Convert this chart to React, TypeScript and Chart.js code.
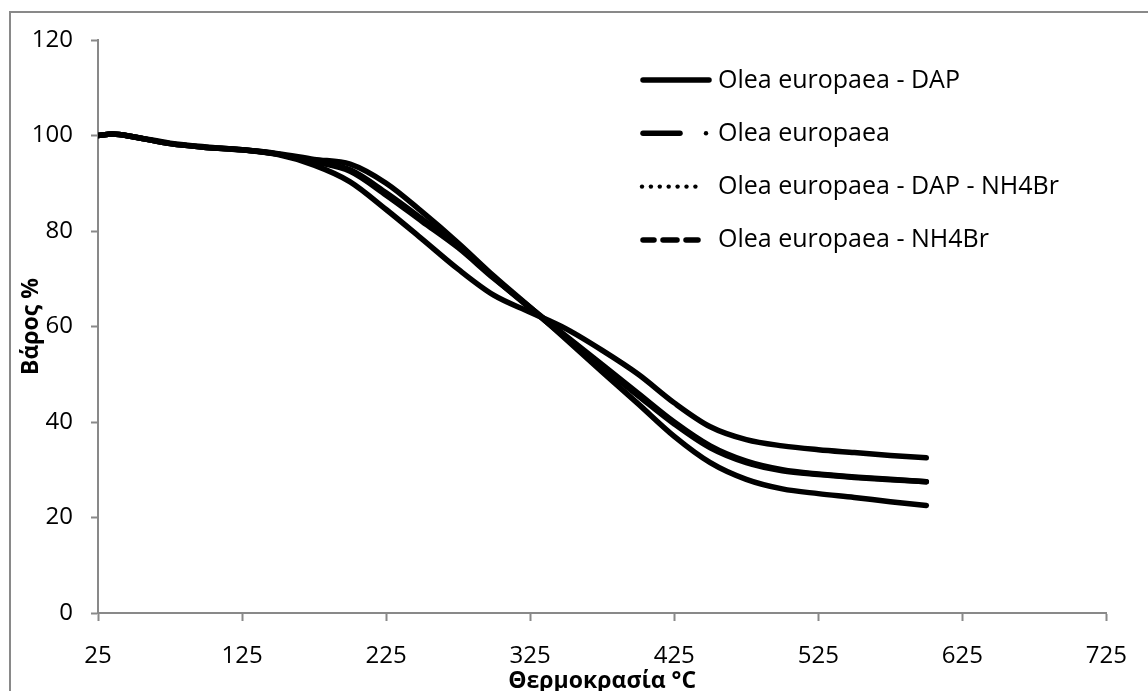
import { useEffect, useRef } from "react";
import { Chart, registerables } from "chart.js";

Chart.register(...registerables);

// Thermogravimetric curves: temperature (°C) vs remaining weight (%)
const temperatures = [25, 35, 50, 75, 100, 125, 150, 175, 200, 225, 250, 275, 300, 325, 350, 375, 400, 425, 450, 475, 500, 525, 550, 575, 600];

const weightDAP = [100, 100.3, 99.7, 98.4, 97.6, 97.0, 96.0, 93.8, 90.3, 84.5, 78.3, 72.0, 66.5, 63.0, 59.5, 55.0, 50.0, 44.0, 39.0, 36.3, 35.0, 34.2, 33.6, 33.0, 32.5];
const weightPlain = [100, 100.3, 99.7, 98.3, 97.5, 97.0, 96.2, 95.0, 94.0, 90.0, 84.0, 77.5, 70.5, 64.0, 57.3, 50.5, 43.8, 37.0, 31.5, 28.0, 26.0, 25.0, 24.2, 23.3, 22.5];
const weightDAPNH4Br = [100, 100.3, 99.7, 98.3, 97.5, 97.0, 96.1, 94.5, 92.5, 87.5, 82.0, 76.5, 70.0, 64.0, 58.0, 52.0, 46.0, 40.0, 35.0, 31.8, 30.0, 29.1, 28.5, 28.0, 27.5];
const weightNH4Br = [100, 100.3, 99.7, 98.3, 97.5, 97.0, 96.1, 94.6, 92.8, 88.0, 82.5, 76.8, 70.2, 63.8, 57.6, 51.5, 45.5, 39.6, 34.6, 31.5, 29.8, 29.0, 28.4, 27.9, 27.5];

const seriesLabels = [
  "Olea europaea - DAP",
  "Olea europaea",
  "Olea europaea - DAP - NH4Br",
  "Olea europaea - NH4Br",
];
// legend sample styles: solid, long dash + dot, dotted, dashed
const legendStyles = ["solid", "dashDot", "dot", "dash"];

const xTicks = [25, 125, 225, 325, 425, 525, 625, 725];
const yTicks = [0, 20, 40, 60, 80, 100, 120];

const xTitle = "Θερμοκρασία °C";
const yTitle = "Βάρος %";

const FONT = "'Open Sans', 'Noto Sans', sans-serif";
const AXIS_GREY = "#898989";
const LINE_W = 5.5;

const toPoints = (ys: number[]) => temperatures.map((t, i) => ({ x: t, y: ys[i] }));

// Outer frame of the chart block (left and top edges fall inside the canvas)
const framePlugin = {
  id: "outerFrame",
  beforeDraw(chart: any) {
    const { ctx } = chart;
    ctx.save();
    ctx.strokeStyle = AXIS_GREY;
    ctx.lineWidth = 2;
    ctx.beginPath();
    ctx.moveTo(10, chart.height + 5);
    ctx.lineTo(10, 12);
    ctx.lineTo(chart.width + 5, 12);
    ctx.stroke();
    ctx.restore();
  },
};

// Legend drawn inside the plot area with per-series line samples
const sampleLegendPlugin = {
  id: "sampleLegend",
  afterDraw(chart: any) {
    const { ctx, chartArea } = chart;
    const x0 = chartArea.left + 542;
    const textX = chartArea.left + 620;
    const rowY0 = chartArea.top + 40;
    const rowGap = 53.3;
    ctx.save();
    ctx.strokeStyle = "#000";
    ctx.fillStyle = "#000";
    ctx.lineWidth = LINE_W;
    ctx.lineCap = "round";
    const seg = (a: number, b: number, y: number) => {
      ctx.beginPath();
      ctx.moveTo(a, y);
      ctx.lineTo(b, y);
      ctx.stroke();
    };
    const dot = (x: number, y: number, r: number) => {
      ctx.beginPath();
      ctx.arc(x, y, r, 0, Math.PI * 2);
      ctx.fill();
    };
    seriesLabels.forEach((label, i) => {
      const y = rowY0 + i * rowGap;
      const style = legendStyles[i];
      if (style === "solid") {
        seg(x0 + 3, x0 + 69, y);
      } else if (style === "dashDot") {
        seg(x0 + 3, x0 + 40, y);
        dot(x0 + 66, y, 2.2);
      } else if (style === "dot") {
        for (let k = 0; k < 7; k++) dot(x0 + 2 + k * 8.9, y, 2.2);
      } else {
        seg(x0 + 3, x0 + 14, y);
        seg(x0 + 23, x0 + 37, y);
        seg(x0 + 46, x0 + 58, y);
      }
      ctx.font = `25px ${FONT}`;
      ctx.textAlign = "left";
      ctx.textBaseline = "alphabetic";
      ctx.fillText(label, textX, y + 7.5);
    });
    ctx.restore();
  },
};

export default function App() {
  const canvasRef = useRef<HTMLCanvasElement | null>(null);

  useEffect(() => {
    const canvas = canvasRef.current;
    if (!canvas) return;

    const datasets = [weightDAP, weightPlain, weightDAPNH4Br, weightNH4Br].map((ys, i) => ({
      label: seriesLabels[i],
      data: toPoints(ys),
      borderColor: "#000",
      backgroundColor: "#000",
      borderWidth: LINE_W,
      borderCapStyle: "round" as const,
      borderJoinStyle: "round" as const,
      pointRadius: 0,
      pointHoverRadius: 0,
      cubicInterpolationMode: "monotone" as const,
      fill: false,
    }));

    const chart = new Chart(canvas, {
      type: "line",
      data: { datasets },
      options: {
        animation: false,
        responsive: true,
        maintainAspectRatio: false,
        layout: { padding: { top: 40, right: 26, left: 0, bottom: 0 } },
        plugins: {
          legend: { display: false },
          tooltip: { enabled: false },
        },
        events: [],
        scales: {
          x: {
            type: "linear",
            min: 25,
            max: 725,
            afterBuildTicks: (scale: any) => {
              scale.ticks = xTicks.map((v) => ({ value: v }));
            },
            afterFit: (scale: any) => {
              scale.height = 78;
            },
            border: { display: true, color: AXIS_GREY, width: 2 },
            grid: {
              display: true,
              drawOnChartArea: false,
              drawTicks: true,
              tickLength: 8,
              tickColor: AXIS_GREY,
              tickWidth: 2,
            },
            ticks: {
              color: "#000",
              font: { family: FONT, size: 24 },
              padding: 21,
              maxRotation: 0,
              autoSkip: false,
              callback: (v: any) => String(v),
            },
            title: {
              display: true,
              text: xTitle,
              color: "#000",
              font: { family: FONT, size: 23, weight: "bold" },
              padding: { top: 0, bottom: -4 },
            },
          },
          y: {
            type: "linear",
            min: 0,
            max: 120,
            afterBuildTicks: (scale: any) => {
              scale.ticks = yTicks.map((v) => ({ value: v }));
            },
            afterFit: (scale: any) => {
              scale.width = 98;
            },
            border: { display: true, color: AXIS_GREY, width: 2 },
            grid: {
              display: true,
              drawOnChartArea: false,
              drawTicks: true,
              tickLength: 7,
              tickColor: AXIS_GREY,
              tickWidth: 2,
            },
            ticks: {
              color: "#000",
              font: { family: FONT, size: 24 },
              padding: 18,
              autoSkip: false,
              callback: (v: any) => String(v),
            },
            title: {
              display: true,
              text: yTitle,
              color: "#000",
              font: { family: FONT, size: 23, weight: "bold" },
              padding: { top: 18, bottom: 0 },
            },
          },
        },
      },
      plugins: [framePlugin, sampleLegendPlugin],
    });

    return () => chart.destroy();
  }, []);

  return (
    <div
      style={{
        position: "fixed",
        left: 0,
        top: 0,
        width: 1148,
        height: 691,
        background: "#fff",
      }}
    >
      <canvas ref={canvasRef} />
    </div>
  );
}
